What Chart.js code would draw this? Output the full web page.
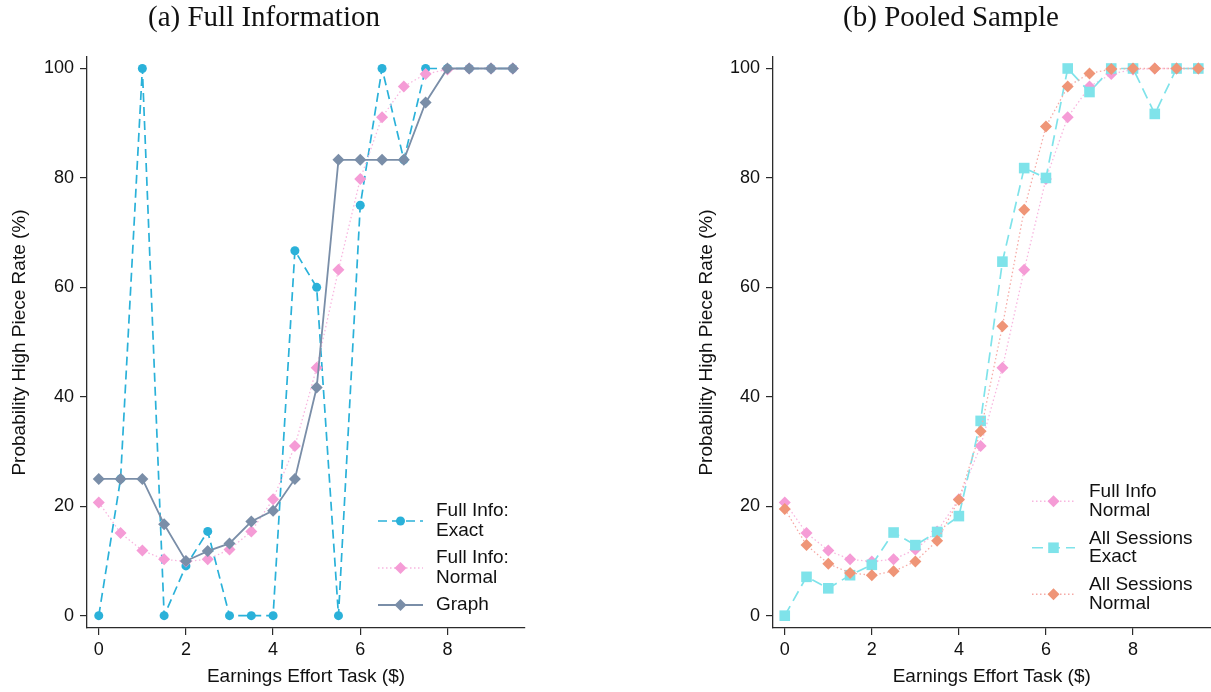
<!DOCTYPE html>
<html>
<head>
<meta charset="utf-8">
<script src="https://cdn.jsdelivr.net/npm/chart.js@4.4.0/dist/chart.umd.min.js"></script>
<style>
  html, body { margin: 0; padding: 0; background: #fff; width: 1211px; height: 692px; overflow: hidden; position: relative; }
  .panel { position: absolute; top: 0; height: 692px; }
  #panelA { left: 0; width: 531px; }
  #panelB { left: 692px; width: 526px; }
</style>
</head>
<body>
<div class="panel" id="panelA"><canvas id="chartA"></canvas></div>
<div class="panel" id="panelB"><canvas id="chartB"></canvas></div>
<script>
// Earnings from the effort task ($), in 50-cent bins
const effort = [0, 0.5, 1, 1.5, 2, 2.5, 3, 3.5, 4, 4.5, 5, 5.5, 6, 6.5, 7, 7.5, 8, 8.5, 9, 9.5];
const xTicks = [0, 2, 4, 6, 8];
const yTicks = [0, 20, 40, 60, 80, 100];

// (a) Full Information: share choosing the high piece rate (%)
const fullInfoExact  = [0, 25, 100, 0, 9.1, 15.4, 0, 0, 0, 66.7, 60, 0, 75, 100, 83.3, 100, 100, 100, 100, 100];
const fullInfoNormal = [20.7, 15.1, 11.9, 10.3, 9.9, 10.3, 12.1, 15.4, 21.3, 31.0, 45.3, 63.2, 79.8, 91.1, 96.7, 99.0, 99.8, 100, 100, 100];
const graphGroup     = [25, 25, 25, 16.7, 10, 11.8, 13.2, 17.2, 19.2, 25, 41.7, 83.3, 83.3, 83.3, 83.3, 93.8, 100, 100, 100, 100];

// (b) Pooled sample
const allSessionsExact  = [0, 7.1, 5.0, 7.4, 9.3, 15.2, 12.9, 15.3, 18.2, 35.6, 64.7, 81.8, 80, 100, 95.7, 100, 100, 91.7, 100, 100];
const allSessionsNormal = [19.5, 12.9, 9.5, 7.8, 7.4, 8.1, 9.9, 13.7, 21.2, 33.7, 52.9, 74.2, 89.4, 96.7, 99.1, 99.9, 100, 100, 100, 100];

const SANS = "'Liberation Sans', Arial, sans-serif";
const SERIF = "'Liberation Serif', 'Times New Roman', serif";
const INK = '#111';
const AXIS = '#2b2b2b';

const pts = arr => effort.map((x, i) => ({ x, y: arr[i] }));

// Panel heading, centred over the panel including its y-axis labels
const panelHeading = {
  id: 'panelHeading',
  afterDraw(chart, args, o) {
    if (!o || !o.text) return;
    const ctx = chart.ctx;
    ctx.save();
    ctx.font = `${o.size}px ${SERIF}`;
    ctx.fillStyle = INK;
    ctx.textAlign = 'center';
    ctx.textBaseline = 'middle';
    ctx.fillText(o.text, o.x, o.y);
    ctx.restore();
  }
};

// Legend with wrapped labels and line+marker samples, drawn inside the plot
const keyBox = {
  id: 'keyBox',
  afterDraw(chart, args, o) {
    if (!o || !o.entries) return;
    const ctx = chart.ctx;
    ctx.save();
    ctx.font = `${o.fontSize}px ${SANS}`;
    ctx.textBaseline = 'middle';
    ctx.textAlign = 'left';
    let y = o.y;
    o.entries.forEach(idx => {
      const ds = chart.data.datasets[idx];
      const lines = ds.label.split('\n');
      const my = y + (lines.length - 1) * o.lineGap / 2;
      ctx.strokeStyle = ds.borderColor;
      ctx.lineWidth = ds.borderWidth;
      ctx.setLineDash(ds.borderDash || []);
      ctx.beginPath();
      ctx.moveTo(o.x0, my);
      ctx.lineTo(o.x1, my);
      ctx.stroke();
      ctx.setLineDash([]);
      ctx.fillStyle = ds.pointBackgroundColor;
      Chart.helpers.drawPoint(ctx, { pointStyle: ds.pointStyle, radius: ds.pointRadius, borderWidth: 0, rotation: 0 }, (o.x0 + o.x1) / 2, my);
      ctx.fillStyle = INK;
      lines.forEach((t, k) => ctx.fillText(t, o.tx, y + k * o.lineGap));
      y += o.entryGap;
    });
    ctx.restore();
  }
};

function axes(yAxisWidth, yTitlePad) {
  const tickFont = { family: SANS, size: 18 };
  const titleFont = { family: SANS, size: 19 };
  return {
    x: {
      type: 'linear', min: -0.27, max: 9.78,
      afterBuildTicks: s => { s.ticks = xTicks.map(v => ({ value: v })); },
      afterFit: s => { s.height = 64; s.paddingLeft = 0; s.paddingRight = 0; },
      grid: { drawOnChartArea: false, drawTicks: true, tickLength: 7, color: AXIS, lineWidth: 1.2 },
      border: { display: true, color: AXIS, width: 1.3 },
      ticks: { font: tickFont, color: INK, padding: 4, maxRotation: 0 },
      title: { display: true, text: 'Earnings Effort Task ($)', font: titleFont, color: INK, padding: { top: 0, bottom: 4 } }
    },
    y: {
      type: 'linear', min: -2.25, max: 102.1,
      afterBuildTicks: s => { s.ticks = yTicks.map(v => ({ value: v })); },
      afterFit: s => { s.width = yAxisWidth; s.paddingTop = 0; s.paddingBottom = 0; },
      grid: { drawOnChartArea: false, drawTicks: true, tickLength: 7, color: AXIS, lineWidth: 1.2 },
      border: { display: true, color: AXIS, width: 1.3 },
      ticks: { font: tickFont, color: INK, padding: 6 },
      title: { display: true, text: 'Probability High Piece Rate (%)', font: titleFont, color: INK, padding: { top: yTitlePad, bottom: 0 } }
    }
  };
}

const base = {
  type: 'scatter',
  plugins: [keyBox, panelHeading]
};

new Chart(document.getElementById('chartA'), {
  ...base,
  data: {
    datasets: [
      {
        label: 'Full Info:\nExact', data: pts(fullInfoExact), showLine: true, order: 2,
        borderColor: '#2ab1d9', borderWidth: 1.7, borderDash: [9, 5],
        pointStyle: 'circle', pointRadius: 4.5, pointBackgroundColor: '#2ab1d9', pointBorderWidth: 0
      },
      {
        label: 'Full Info:\nNormal', data: pts(fullInfoNormal), showLine: true, order: 1,
        borderColor: '#f8b6df', borderWidth: 1.3, borderDash: [1.5, 2.5],
        pointStyle: 'rectRot', pointRadius: 6, pointBackgroundColor: '#f59cd6', pointBorderWidth: 0
      },
      {
        label: 'Graph', data: pts(graphGroup), showLine: true, order: 0,
        borderColor: '#7a8ea8', borderWidth: 1.8,
        pointStyle: 'rectRot', pointRadius: 6, pointBackgroundColor: '#7a8ea8', pointBorderWidth: 0
      }
    ]
  },
  options: {
    responsive: true, maintainAspectRatio: false, animation: false, devicePixelRatio: 1,
    clip: false,
    layout: { padding: { top: 57, right: 2, bottom: 0, left: 0 } },
    scales: axes(87, 8),
    plugins: {
      legend: { display: false }, tooltip: { enabled: false }, title: { display: false },
      panelHeading: { text: '(a) Full Information', x: 264, y: 18, size: 29 },
      keyBox: { entries: [0, 1, 2], x0: 378, x1: 423, tx: 436, y: 511, lineGap: 20, entryGap: 47, fontSize: 19 }
    }
  }
});

new Chart(document.getElementById('chartB'), {
  ...base,
  data: {
    datasets: [
      {
        label: 'Full Info\nNormal', data: pts(fullInfoNormal), showLine: true, order: 2,
        borderColor: '#f8b6df', borderWidth: 1.3, borderDash: [1.5, 2.5],
        pointStyle: 'rectRot', pointRadius: 6, pointBackgroundColor: '#f59cd6', pointBorderWidth: 0
      },
      {
        label: 'All Sessions\nExact', data: pts(allSessionsExact), showLine: true, order: 1,
        borderColor: '#7fe3ea', borderWidth: 1.7, borderDash: [11, 6],
        pointStyle: 'rect', pointRadius: 7.5, pointBackgroundColor: '#7fe3ea', pointBorderWidth: 0
      },
      {
        label: 'All Sessions\nNormal', data: pts(allSessionsNormal), showLine: true, order: 0,
        borderColor: '#f6aaa6', borderWidth: 1.3, borderDash: [1.5, 2.5],
        pointStyle: 'rectRot', pointRadius: 6, pointBackgroundColor: '#ef9577', pointBorderWidth: 0
      }
    ]
  },
  options: {
    responsive: true, maintainAspectRatio: false, animation: false, devicePixelRatio: 1,
    clip: false,
    layout: { padding: { top: 57, right: 1, bottom: 0, left: 0 } },
    scales: axes(81, 3),
    plugins: {
      legend: { display: false }, tooltip: { enabled: false }, title: { display: false },
      panelHeading: { text: '(b) Pooled Sample', x: 951 - 692, y: 18, size: 29 },
      keyBox: { entries: [0, 1, 2], x0: 1032 - 692, x1: 1075 - 692, tx: 1089 - 692, y: 492, lineGap: 18.5, entryGap: 46.5, fontSize: 19 }
    }
  }
});
</script>
</body>
</html>
